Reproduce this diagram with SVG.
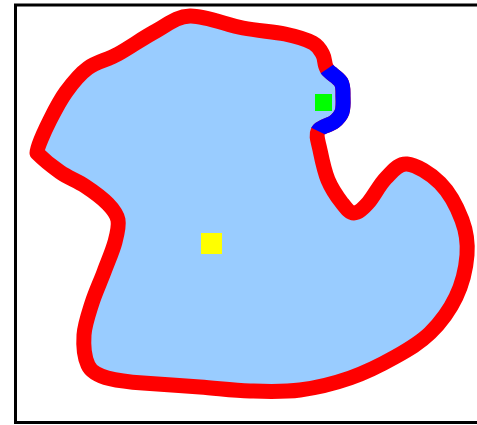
<svg xmlns="http://www.w3.org/2000/svg" width="477" height="425" viewBox="0 0 477 425">
<style>
.frame{fill:none;stroke:#000;stroke-width:3}
.blob{fill:#99ccff;stroke:#ff0000;stroke-width:15;stroke-linejoin:round}
.edge{fill:none;stroke:#0000ff;stroke-width:15;stroke-linecap:butt;stroke-linejoin:round}
</style>
<rect width="477" height="425" fill="#fff"/>
<rect class="frame" x="15.5" y="5" width="480" height="417.5"/>
<g id="region">
<path class="blob" d="M190,16 C204.5,15.5 227.2,25 243,28 C258.8,31 273.3,31.5 285,34 C296.7,36.5 306.7,39.5 313,43 C319.3,46.5 320.7,50.7 323,55 C325.3,59.3 324,64.5 327,69 C330,73.5 338.3,77.3 341,82 C343.7,86.7 342.8,92 343,97 C343.2,102 343.5,107.8 342,112 C340.5,116.2 338,118.8 334,122 C330,125.2 320.3,126.3 318,131 C315.7,135.7 318.3,141.8 320,150 C321.7,158.2 324.3,171.2 328,180 C331.7,188.8 337.7,197.5 342,203 C346.3,208.5 349.7,213 354,213 C358.3,213 362.7,208.8 368,203 C373.3,197.2 379.5,184.5 386,178 C392.5,171.5 398,163.2 407,164 C416,164.8 430.8,173.7 440,183 C449.2,192.3 457.5,208 462,220 C466.5,232 468,242.2 467,255 C466,267.8 462.2,284 456,297 C449.8,310 440.2,323 430,333 C419.8,343 408.3,349.5 395,357 C381.7,364.5 365.8,372.5 350,378 C334.2,383.5 316.7,387.8 300,390 C283.3,392.2 266.7,391.5 250,391 C233.3,390.5 217.8,388.3 200,387 C182.2,385.7 158.8,384 143,383 C123,381.7 94,379 88,365 C84.5,357.3 83.3,345.3 84,335 C84.7,324.7 88.7,313.5 92,303 C95.3,292.5 100.2,282.2 104,272 C107.8,261.8 112.7,250.7 115,242 C117.3,233.3 119.2,226.3 118,220 C116.8,213.7 113.5,209.7 108,204 C102.5,198.3 93,191.3 85,186 C77,180.7 68.2,177.7 60,172 C51.8,166.3 42,158 37,153 C36,149 45,130 50,120 C55,110 59.7,100.7 66,92 C72.3,83.3 79.3,74.3 88,68 C96.7,61.7 106.7,60.2 118,54 C129.3,47.8 144,37.3 156,31 C168,24.7 175.5,16.5 190,16 Z"/>
</g>
<g id="connectors">
<path id="blue-edge" class="edge" d="M327,69 C330,73.5 338.3,77.3 341,82 C343.7,86.7 342.8,92 343,97 C343.2,102 343.5,107.8 342,112 C340.5,116.2 338,118.8 334,122 C330,125.2 320.3,126.3 318,131"/>
</g>
<g id="green-point"><rect x="315" y="94" width="17" height="17" fill="#00ff00"/></g>
<g id="yellow-point"><rect x="201" y="233" width="21" height="21" fill="#ffff00"/></g>
</svg>
